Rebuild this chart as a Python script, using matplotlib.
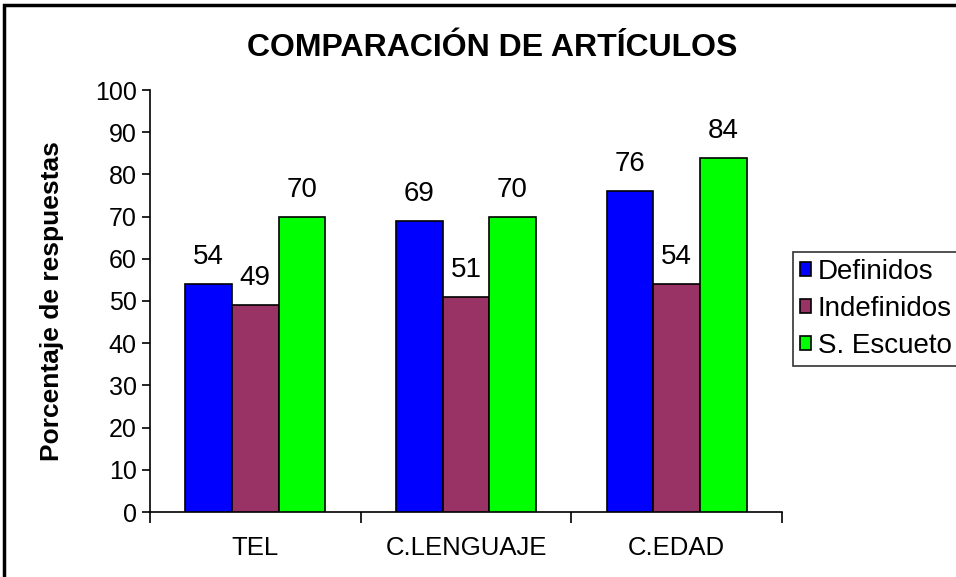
import matplotlib
matplotlib.use("Agg")
import matplotlib.pyplot as plt
import numpy as np
from matplotlib.patches import Rectangle

categories = ["TEL", "C.LENGUAJE", "C.EDAD"]
series_names = ["Definidos", "Indefinidos", "S. Escueto"]
definidos = [54, 69, 76]
indefinidos = [49, 51, 54]
escueto = [70, 70, 84]
colors = ["#0000FF", "#993366", "#00FF00"]
yticks = [0, 10, 20, 30, 40, 50, 60, 70, 80, 90, 100]

plt.rcParams['font.family'] = ['Liberation Sans', 'DejaVu Sans']

fig = plt.figure(figsize=(9.56, 5.77), dpi=100)
ax = fig.add_axes([150/956, 1-512/577, (782-150)/956, (512-90)/577])

x = np.arange(len(categories))
w = 0.221
for i, (vals, name, c) in enumerate(zip([definidos, indefinidos, escueto], series_names, colors)):
    bars = ax.bar(x + (i-1)*w, vals, width=w, color=c, edgecolor="black", linewidth=1.2, label=name, zorder=3)
    for b, v in zip(bars, vals):
        ax.annotate(str(v), (b.get_x()+b.get_width()/2, v), xytext=(0, 10), textcoords="offset points",
                    ha="center", va="bottom", fontsize=20)

ax.set_xlim(-0.5, len(categories)-0.5)
ax.set_ylim(0, 100)
ax.set_yticks(yticks)
ax.tick_params(axis='y', labelsize=18, direction='out', length=6, width=1.2)
ax.set_xticks(x)
ax.set_xticklabels(categories, fontsize=18.5)
ax.tick_params(axis='x', which='major', length=0, pad=17)
ax.set_xticks(np.arange(len(categories)+1)-0.5, minor=True)
ax.tick_params(axis='x', which='minor', direction='out', length=8, width=1.2)
for s in ['top', 'right']:
    ax.spines[s].set_visible(False)
for s in ['left', 'bottom']:
    ax.spines[s].set_linewidth(1.2)
ax.set_ylabel("Porcentaje de respuestas", fontsize=19, fontweight='bold', labelpad=22)
fig.text(492/956, 1-48/577, "COMPARACIÓN DE ARTÍCULOS", ha='center', va='center', fontsize=23, fontweight='bold')

leg = ax.legend(loc='upper left', bbox_to_anchor=(793/956, 1-252/577), bbox_transform=fig.transFigure,
                fontsize=20, frameon=True, fancybox=False, edgecolor='black', handlelength=0.4,
                handleheight=0.4, handletextpad=0.25, borderpad=0.25, labelspacing=0.4, borderaxespad=0)
leg.get_frame().set_linewidth(1.2)

fig.patches.append(Rectangle((4/956, -0.1), 1.2, 1-5/577+0.1, transform=fig.transFigure,
                             fill=False, edgecolor='black', linewidth=2.5))

fig.savefig("out.png", dpi=100)
